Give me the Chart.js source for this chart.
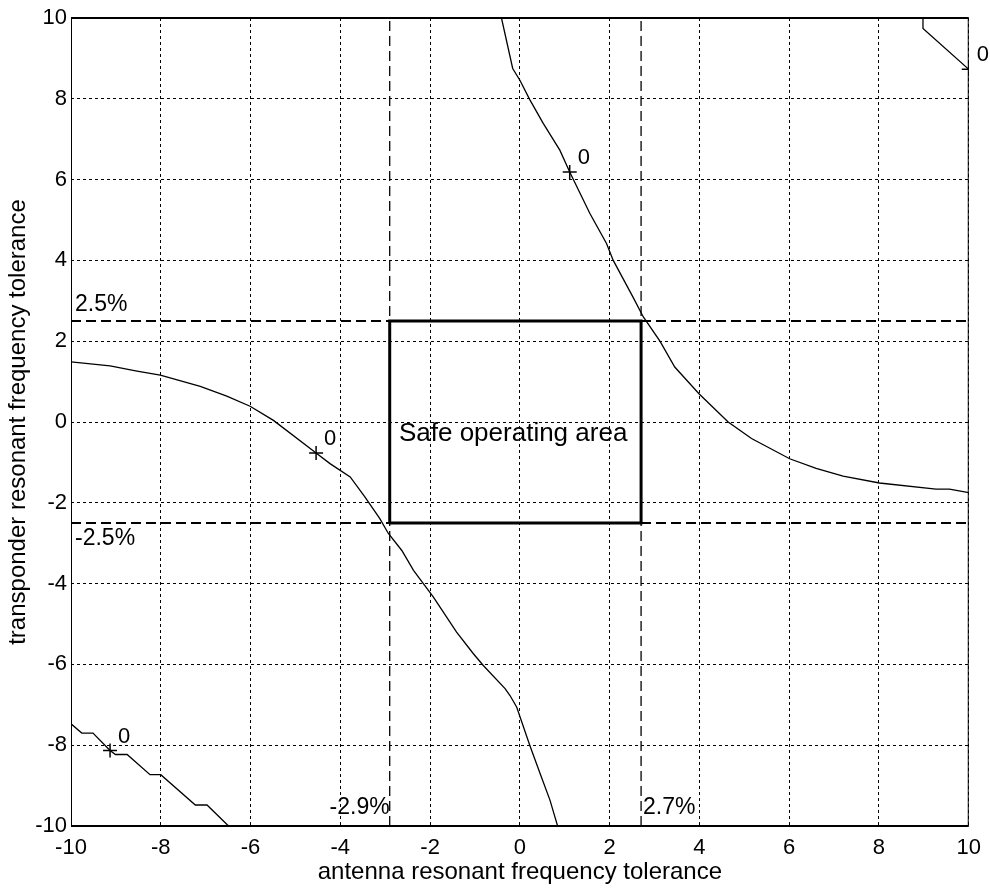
<!DOCTYPE html>
<html>
<head>
<meta charset="utf-8">
<title>Safe operating area</title>
<script src="https://cdn.jsdelivr.net/npm/chart.js@4.4.1/dist/chart.umd.min.js"></script>
<style>
  html, body { margin: 0; padding: 0; background: #fff; }
</style>
</head>
<body>
<canvas id="tolerance-chart" width="990" height="890"></canvas>
<script>
// Zero contours (x = antenna, y = transponder tolerance in %)
var curveAX = [-0.41, -0.16, 0.0, 0.22, 0.52, 0.89, 1.11, 1.56, 1.93, 2.08, 2.52, 2.75, 3.12, 3.45, 3.99, 4.64, 5.16, 6.01, 6.6, 7.2, 8.01, 9.27, 9.57, 10];
var curveAY = [10, 8.75, 8.46, 7.98, 7.39, 6.73, 6.19, 5.16, 4.42, 4.0, 3.09, 2.6, 2.0, 1.36, 0.7, 0.0, -0.41, -0.91, -1.15, -1.34, -1.51, -1.66, -1.66, -1.75];

var curveBX = [8.98, 8.98, 10];
var curveBY = [10, 9.74, 8.73];

var curveCX = [-10, -9.13, -8.53, -8.01, -7.12, -6.53, -6.01, -5.49, -4.54, -4.23, -3.78, -3.45, -3.12, -2.93, -2.63, -2.37, -1.93, -1.41, -1.04, -0.82, -0.33, -0.22, -0.07, 0.22, 0.45, 0.67, 0.84];
var curveCY = [1.49, 1.39, 1.26, 1.16, 0.88, 0.64, 0.39, 0.04, -0.77, -1.03, -1.36, -1.86, -2.39, -2.76, -3.18, -3.67, -4.33, -5.2, -5.73, -6.02, -6.6, -6.77, -7.06, -8.0, -8.7, -9.36, -10];

var curveDX = [-10, -9.76, -9.51, -9.13, -9.01, -8.75, -8.24, -8.0, -7.23, -6.97, -6.49];
var curveDY = [-7.47, -7.7, -7.7, -8.13, -8.23, -8.23, -8.73, -8.73, -9.48, -9.48, -10];

// contour level markers
var markerX = [1.11, -4.54, -9.13, 10];
var markerY = [6.19, -0.77, -8.13, 8.73];
var markerLabels = ["0", "0", "0", "0"];

// tolerance limits
var antennaLimits = [-2.9, 2.7];
var antennaLabels = ["-2.9%", "2.7%"];
var transponderLimits = [-2.5, 2.5];
var transponderLabels = ["-2.5%", "2.5%"];

var axisMin = -10;
var axisMax = 10;
var tickStep = 2;

var fontFamily = "'Liberation Sans', Arial, Helvetica, sans-serif";

function toPoints(xs, ys) {
  return xs.map(function (x, i) {
    return { x: x, y: ys[i] };
  });
}

document.addEventListener("DOMContentLoaded", function () {
  var ctx = document.getElementById("tolerance-chart").getContext("2d");

  // common look for thin black lines
  var lineOpts = {
    showLine: true,
    pointRadius: 0,
    pointHoverRadius: 0,
    borderColor: "#000",
    backgroundColor: "#000",
    fill: false,
    tension: 0,
  };

  var datasets = [];

  // dashed limit lines
  antennaLimits.forEach(function (v) {
    datasets.push({
      ...lineOpts,
      data: [{ x: v, y: axisMin }, { x: v, y: axisMax }],
      borderWidth: 1.3,
      borderDash: [10, 5],
    });
  });
  transponderLimits.forEach(function (v) {
    datasets.push({
      ...lineOpts,
      data: [{ x: axisMin, y: v }, { x: axisMax, y: v }],
      borderWidth: 2,
      borderDash: [10, 5],
    });
  });

  // safe operating area box
  datasets.push({
    ...lineOpts,
    data: [
      { x: antennaLimits[0], y: transponderLimits[0] },
      { x: antennaLimits[0], y: transponderLimits[1] },
      { x: antennaLimits[1], y: transponderLimits[1] },
      { x: antennaLimits[1], y: transponderLimits[0] },
      { x: antennaLimits[0], y: transponderLimits[0] },
    ],
    borderWidth: 3,
    borderJoinStyle: "miter",
  });

  // contour curves
  [
    [curveAX, curveAY],
    [curveBX, curveBY],
    [curveCX, curveCY],
    [curveDX, curveDY],
  ].forEach(function (c) {
    datasets.push({
      ...lineOpts,
      data: toPoints(c[0], c[1]),
      borderWidth: 1.3,
    });
  });

  // "+" markers
  datasets.push({
    data: toPoints(markerX, markerY),
    showLine: false,
    pointStyle: "cross",
    pointRadius: 7,
    pointHoverRadius: 7,
    pointBorderWidth: 1.5,
    borderColor: "#000",
    pointBorderColor: "#000",
    clip: 0,
  });

  // frame + texts drawn on top
  var annotations = {
    id: "annotations",
    afterDraw: function (chart) {
      var c = chart.ctx;
      var a = chart.chartArea;
      var xs = chart.scales.x;
      var ys = chart.scales.y;

      c.save();
      c.strokeStyle = "#000";
      c.setLineDash([]);
      c.lineWidth = 2;
      c.beginPath();
      c.moveTo(a.left, a.top);
      c.lineTo(a.right, a.top);
      c.moveTo(a.left, a.bottom);
      c.lineTo(a.right, a.bottom);
      c.stroke();
      c.lineWidth = 1;
      c.beginPath();
      c.moveTo(a.left + 0.5, a.top);
      c.lineTo(a.left + 0.5, a.bottom);
      c.moveTo(a.right - 0.5, a.top);
      c.lineTo(a.right - 0.5, a.bottom);
      c.stroke();

      c.fillStyle = "#000";
      c.textBaseline = "middle";

      // marker labels
      c.font = "22px " + fontFamily;
      c.textAlign = "left";
      markerLabels.forEach(function (t, i) {
        c.fillText(t, xs.getPixelForValue(markerX[i]) + 8, ys.getPixelForValue(markerY[i]) - 14);
      });

      // limit labels
      c.font = "23px " + fontFamily;
      c.textAlign = "left";
      c.fillText(transponderLabels[1], a.left + 4, ys.getPixelForValue(transponderLimits[1]) - 16);
      c.fillText(transponderLabels[0], a.left + 4, ys.getPixelForValue(transponderLimits[0]) + 16);
      var yBottomLabel = a.bottom - 18;
      c.textAlign = "right";
      c.fillText(antennaLabels[0], xs.getPixelForValue(antennaLimits[0]), yBottomLabel);
      c.textAlign = "left";
      c.fillText(antennaLabels[1], xs.getPixelForValue(antennaLimits[1]) + 2, yBottomLabel);

      // area caption
      c.font = "26px " + fontFamily;
      c.textAlign = "center";
      c.fillText("Safe operating area", xs.getPixelForValue(-0.15), ys.getPixelForValue(-0.3));
      c.restore();
    },
  };

  new Chart(ctx, {
    type: "scatter",
    data: { datasets: datasets },
    plugins: [annotations],
    options: {
      responsive: false,
      animation: false,
      devicePixelRatio: 1,
      layout: {
        padding: { top: 18, right: 21, left: 0, bottom: 0 },
      },
      plugins: {
        legend: { display: false },
        tooltip: { enabled: false },
      },
      events: [],
      scales: {
        x: {
          type: "linear",
          position: "bottom",
          min: axisMin,
          max: axisMax,
          grid: { color: "#000", lineWidth: 1, drawTicks: false },
          border: { display: false, dash: [3, 3] },
          ticks: {
            stepSize: tickStep,
            color: "#000",
            padding: 9,
            maxRotation: 0,
            autoSkip: false,
            font: { size: 22, family: fontFamily },
          },
          title: {
            display: true,
            text: "antenna resonant frequency tolerance",
            color: "#000",
            font: { size: 24, family: fontFamily },
            padding: { top: 0, bottom: 3 },
          },
          afterFit: function (scale) {
            scale.height = 64;
          },
        },
        y: {
          type: "linear",
          position: "left",
          min: axisMin,
          max: axisMax,
          grid: { color: "#000", lineWidth: 1, drawTicks: false },
          border: { display: false, dash: [3, 3] },
          ticks: {
            stepSize: tickStep,
            color: "#000",
            padding: 4,
            font: { size: 22, family: fontFamily },
          },
          title: {
            display: true,
            text: "transponder resonant frequency tolerance",
            color: "#000",
            font: { size: 24, family: fontFamily },
            padding: { top: 4, bottom: 0 },
          },
          afterFit: function (scale) {
            scale.width = 71;
          },
        },
      },
    },
  });
});
</script>
</body>
</html>
